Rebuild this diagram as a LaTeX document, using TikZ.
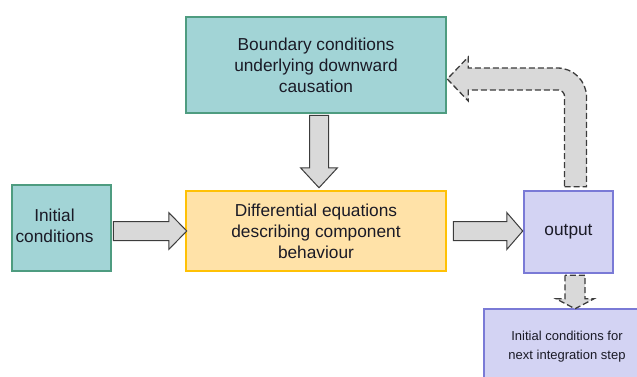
\documentclass[tikz,border=0pt]{standalone}
\usepackage{fontspec}
\setmainfont{Liberation Sans}
\usetikzlibrary{calc}
\definecolor{tealfill}{HTML}{A2D4D6}
\definecolor{tealedge}{HTML}{4E9C80}
\definecolor{yelfill}{HTML}{FFE2A8}
\definecolor{yeledge}{HTML}{FFC105}
\definecolor{purfill}{HTML}{D3D3F3}
\definecolor{puredge}{HTML}{7A7AD6}
\definecolor{arrfill}{HTML}{D9D9D9}
\definecolor{arredge}{HTML}{3C3C3C}
\definecolor{txtcol}{HTML}{1A1A26}
\tikzset{
  box/.style={rectangle, line width=2.5pt, inner sep=0pt, align=center, text=txtcol,
    font=\fontsize{17.3}{21}\selectfont},
  tealbox/.style={box, fill=tealfill, draw=tealedge},
  yelbox/.style={box, fill=yelfill, draw=yeledge},
  purbox/.style={box, fill=purfill, draw=puredge},
  blk/.style={fill=arrfill, draw=arredge, line width=1pt},
  dblk/.style={blk, line width=1.3pt, dash pattern=on 6pt off 3pt}
}
\begin{document}
\begin{tikzpicture}[x=1pt, y=-1pt]
\useasboundingbox (0,0) rectangle (637,376);
\clip (0,0) rectangle (637,376);
\def\sw{9.5};
\def\hw{18.5};
% boxes
\node[tealbox, minimum width=260pt, minimum height=96pt] (bnd) at (316,65)
  {Boundary conditions\\underlying downward\\causation};
\node[tealbox, minimum width=99pt, minimum height=86pt] (ini) at (61.5,228) {};
\node[box, fill=none, draw=none] (initxt) at ($(ini)+(-7,-2.5)$) {Initial\\conditions};
\node[yelbox, minimum width=260pt, minimum height=80pt] (dif) at (316,231)
  {Differential equations\\describing component\\behaviour};
\node[purbox, minimum width=89pt, minimum height=82pt] (out) at (568.5,232) {output};
\node[purbox, minimum width=166pt, minimum height=76pt, font=\fontsize{13}{19}\selectfont]
  (nxt) at (567,347) {Initial conditions for\\next integration step};
% solid block arrows
\coordinate (s1) at ($(bnd.south)+(3,1)$);
\coordinate (t1) at ($(s1 |- dif.north)+(0,-2)$);
\draw[blk] ($(s1)+(-\sw,0)$) -- ($(t1)+(-\sw,-20)$) -- ($(t1)+(-\hw,-20)$) -- (t1)
  -- ($(t1)+(\hw,-20)$) -- ($(t1)+(\sw,-20)$) -- ($(s1)+(\sw,0)$) -- cycle;
\coordinate (a1) at ($(ini.east |- dif.west)+(1,0)$);
\coordinate (b1) at ($(dif.west)+(2,0)$);
\coordinate (a2) at ($(dif.east)+(6,0)$);
\coordinate (b2) at (out.west |- a2);
\foreach\p/\q/\h in {a1/b1/18, a2/b2/16} {
  \draw[blk] ($(\p)+(0,-\sw)$) -- ($(\q)+(-\h,-\sw)$) -- ($(\q)+(-\h,-\hw)$) -- (\q)
    -- ($(\q)+(-\h,\hw)$) -- ($(\q)+(-\h,\sw)$) -- ($(\p)+(0,\sw)$) -- cycle;
}
% dashed feedback arrow
\coordinate (s) at ($(out.north)+(7,-3)$);
\coordinate (t) at ($(bnd.east)+(0,14)$);
\coordinate (c) at (s |- t);
\draw[dblk] ($(s)+(-11,0)$) -- ($(s)+(11,0)$) -- ($(c)+(11,18)$)
  .. controls ($(c)+(11,2)$) and ($(c)+(-2,-11)$) .. ($(c)+(-18,-11)$)
  -- ($(t)+(21,-11)$) -- ($(t)+(21,-22)$) -- (t) -- ($(t)+(21,22)$) -- ($(t)+(21,11)$)
  -- ($(c)+(-17,11)$) .. controls ($(c)+(-13.7,11)$) and ($(c)+(-11,14.3)$) .. ($(c)+(-11,17)$)
  -- cycle;
% dashed arrow to next step
\coordinate (s3) at ($(out.south)+(6.5,1)$);
\coordinate (t3) at ($(s3 |- nxt.north)+(0,1)$);
\draw[dblk] ($(s3)+(-10,0)$) -- ($(t3)+(-10,-10)$) -- ($(t3)+(-19,-10)$) -- (t3)
  -- ($(t3)+(19,-10)$) -- ($(t3)+(10,-10)$) -- ($(s3)+(10,0)$) -- cycle;
\end{tikzpicture}
\end{document}
